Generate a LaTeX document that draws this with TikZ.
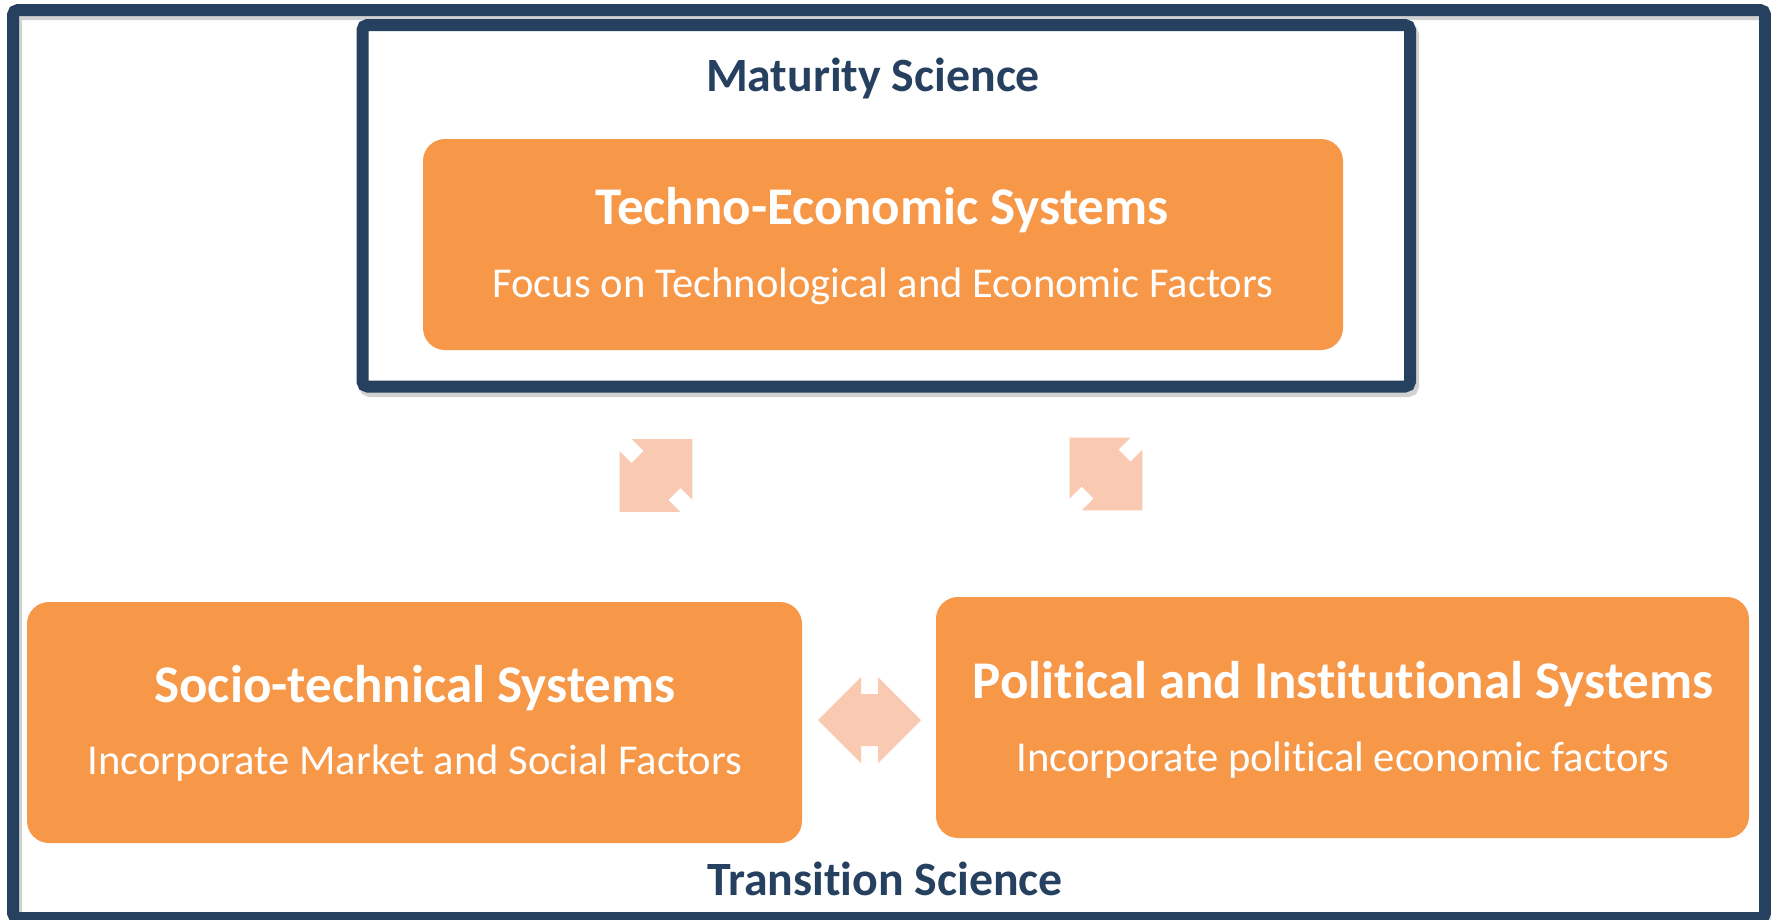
\documentclass[tikz,border=0pt]{standalone}
\usepackage{fontspec}
\setmainfont{Carlito}[Ligatures={NoCommon,NoContextual}, RawFeature={-liga;-clig;-dlig}]
\definecolor{navy}{HTML}{264060}
\definecolor{orng}{HTML}{F79748}
\definecolor{peach}{HTML}{F9C9B1}
\newcommand{\tiNL}{t\kern0pt i}
\tikzset{
  frameline/.style={draw=navy, line width=12pt, rounded corners=5pt},
  shadowline/.style={draw=black, opacity=0.18, line width=12pt, rounded corners=5pt},
  sysbox/.style={fill=orng, rounded corners=22pt, anchor=north west, inner sep=0pt, outer sep=0pt},
  ttl/.style={text=white, font=\fontsize{53}{60}\selectfont\bfseries, anchor=base, inner sep=0pt},
  subttl/.style={text=white, font=\fontsize{42.6}{50}\selectfont, anchor=base, inner sep=0pt},
  lbl/.style={text=navy, font=\fontsize{47.8}{54}\selectfont\bfseries, anchor=base, inner sep=0pt},
  dblarrow/.pic={
    \fill[peach] (-51.5,0) -- (-8.5,-43) -- (-8.5,-26) -- (8.5,-26) -- (8.5,-43)
      -- (51.5,0) -- (8.5,43) -- (8.5,26) -- (-8.5,26) -- (-8.5,43) -- cycle;
  }
}
\begin{document}
\begin{tikzpicture}[x=1pt, y=-1pt]
  \useasboundingbox (0,0) rectangle (1771,919);
  \fill[white] (0,0) rectangle (1771,919);
  % outer frame (Transition Science)
  \draw[shadowline] (16,14) rectangle (1768,922);
  \draw[frameline] (13,10) rectangle (1765,918);
  % inner frame (Maturity Science)
  \draw[shadowline] (365,30) rectangle (1413,391);
  \node[frameline, fill=white, minimum width=1047.5pt, minimum height=361.5pt, inner sep=0pt] (inner) at (886.25,205.75) {};
  % boxes
  \node[sysbox, minimum width=920pt, minimum height=211pt] (te) at (423,139) {};
  \node[sysbox, minimum width=775pt, minimum height=241pt] (st) at (27,602) {};
  \node[sysbox, minimum width=813pt, minimum height=241pt] (pi) at (936,597) {};
  % texts
  \node[lbl] (mat) at (873,91) {Maturity Science};
  \node[lbl] (tra) at (885,895) {Transi\tiNL on Science};
  \node[ttl] (tet) at (882,224) {Techno-Economic Systems};
  \node[subttl] (tes) at (883,297) {Focus on Technological and Economic Factors};
  \node[ttl] (stt) at (415,702) {Socio-technical Systems};
  \node[subttl] (sts) at (415,774) {Incorporate Market and Social Factors};
  \node[ttl] (pit) at (1343,698) {Poli\tiNL cal and Ins\tiNL tu\tiNL onal Systems};
  \node[subttl] (pis) at (1343,771) {Incorporate poli\tiNL cal economic factors};
  % double arrows
  \pic[rotate=45] (a1) at (656,475.5) {dblarrow};
  \pic[rotate=-45] (a2) at (1106,474) {dblarrow};
  \pic (a3) at (869.5,720) {dblarrow};
\end{tikzpicture}
\end{document}
